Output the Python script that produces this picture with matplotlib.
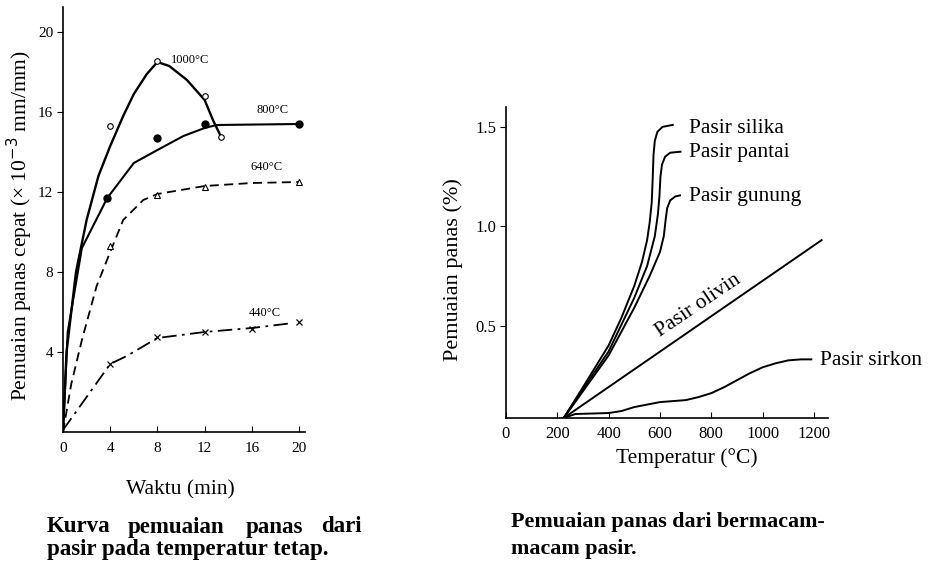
import matplotlib
matplotlib.use("Agg")
import matplotlib.pyplot as plt

plt.rcParams['font.family'] = ['Liberation Serif', 'DejaVu Serif']

# ---------------- Left chart data (Waktu vs pemuaian) ----------------
t_1000_line = [0, 0.3, 1.1, 2.0, 3.0, 4.0, 5.1, 6.0, 7.1, 8.0, 9.0, 10.5, 12.0, 12.7, 13.4]
v_1000_line = [0, 4.0, 8.0, 10.6, 12.8, 14.3, 15.8, 16.9, 17.9, 18.5, 18.3, 17.6, 16.6, 15.6, 14.75]
t_1000_pts = [4, 8, 12, 13.4]
v_1000_pts = [15.3, 18.55, 16.8, 14.75]

t_800_line = [0, 0.4, 1.6, 3.75, 6.0, 8.0, 10.2, 12.0, 13.0, 20.0]
v_800_line = [0, 5.0, 9.2, 11.7, 13.45, 14.1, 14.8, 15.2, 15.35, 15.4]
t_800_pts = [3.75, 8, 12, 20]
v_800_pts = [11.7, 14.7, 15.4, 15.4]

t_640_line = [0, 0.7, 1.6, 2.85, 4.0, 5.1, 6.8, 8.0, 12.0, 16.0, 20.0]
v_640_line = [0, 2.4, 4.6, 7.3, 9.0, 10.6, 11.6, 11.9, 12.3, 12.45, 12.5]
t_640_pts = [4, 8, 12, 20]
v_640_pts = [9.3, 11.85, 12.27, 12.5]

t_440_line = [0, 4.0, 5.4, 8.0, 12.0, 16.0, 19.5]
v_440_line = [0.1, 3.4, 3.8, 4.7, 5.0, 5.2, 5.45]
t_440_pts = [4, 8, 12, 16, 20]
v_440_pts = [3.4, 4.75, 5.0, 5.15, 5.5]

left_xticks = [0, 4, 8, 12, 16, 20]
left_yticks = [4, 8, 12, 16, 20]
left_labels = ["1000°C", "800°C", "640°C", "440°C"]

# ---------------- Right chart data (Temperatur vs pemuaian) ----------------
T_silika = [225, 300, 400, 450, 500, 530, 550, 560, 568, 572, 575, 580, 590, 610, 650]
P_silika = [0.035, 0.19, 0.40, 0.54, 0.70, 0.82, 0.93, 1.02, 1.12, 1.25, 1.36, 1.43, 1.475, 1.50, 1.51]

T_pantai = [225, 300, 400, 500, 550, 580, 592, 598, 602, 608, 620, 640, 680]
P_pantai = [0.035, 0.18, 0.37, 0.64, 0.80, 0.95, 1.06, 1.15, 1.25, 1.31, 1.35, 1.37, 1.375]

T_gunung = [225, 300, 400, 500, 560, 600, 615, 622, 628, 640, 660, 678]
P_gunung = [0.035, 0.17, 0.35, 0.59, 0.75, 0.87, 0.95, 1.03, 1.09, 1.13, 1.15, 1.155]

T_olivin = [225, 1230]
P_olivin = [0.035, 0.93]

T_sirkon = [225, 270, 400, 450, 500, 600, 700, 750, 800, 850, 900, 950, 1000, 1050, 1100, 1150, 1190]
P_sirkon = [0.035, 0.055, 0.06, 0.07, 0.09, 0.115, 0.125, 0.14, 0.16, 0.19, 0.225, 0.26, 0.29, 0.31, 0.325, 0.33, 0.33]

right_xticks = [0, 200, 400, 600, 800, 1000, 1200]
right_yticks = [0.5, 1.0, 1.5]
right_names = ["Pasir silika", "Pasir pantai", "Pasir gunung", "Pasir olivin", "Pasir sirkon"]

# ---------------- Figure ----------------
fig = plt.figure(figsize=(9.36, 5.74), dpi=100)
W, H = 936.0, 574.0

def fx(px):
    return px / W

def fy(py):
    return 1 - py / H

# Left axes
axL = fig.add_axes([fx(63), fy(432), fx(305) - fx(63), fy(7) - fy(432)])
axL.plot(t_1000_line, v_1000_line, color='black', lw=1.7, ls='-')
axL.plot(t_1000_pts, v_1000_pts, ls='none', marker='o', ms=4, mfc='white', mec='black', mew=0.8)
axL.plot(t_800_line, v_800_line, color='black', lw=1.5, ls='-')
axL.plot(t_800_pts, v_800_pts, ls='none', marker='o', ms=5, mfc='black', mec='black')
axL.plot(t_640_line, v_640_line, color='black', lw=1.3, ls=(0, (5, 3)))
axL.plot(t_640_pts, v_640_pts, ls='none', marker='^', ms=4, mfc='white', mec='black', mew=0.8)
axL.plot(t_440_line, v_440_line, color='black', lw=1.3, ls=(0, (8, 3, 1.5, 3)))
axL.plot(t_440_pts, v_440_pts, ls='none', marker='x', ms=4.5, mec='black', mew=0.9)

axL.set_xlim(0, 20.5)
axL.set_ylim(0, 21.25)
axL.set_xticks(left_xticks)
axL.set_yticks(left_yticks)
axL.spines['top'].set_visible(False)
axL.spines['right'].set_visible(False)
for s in ['left', 'bottom']:
    axL.spines[s].set_linewidth(1.2)
axL.tick_params(axis='x', direction='in', length=4, labelsize=11, pad=7)
axL.tick_params(axis='y', direction='out', length=4, labelsize=11, pad=3)

axL.text(9.1, 18.6, left_labels[0], fontsize=9, va='center', ha='left')
axL.text(16.4, 16.1, left_labels[1], fontsize=9, va='center', ha='left')
axL.text(15.85, 13.25, left_labels[2], fontsize=9, va='center', ha='left')
axL.text(15.7, 5.95, left_labels[3], fontsize=9, va='center', ha='left')

fig.text(fx(180), fy(490), "Waktu (min)", fontsize=15.5, ha='center', va='center')
fig.text(fx(20), fy(226), "Pemuaian panas cepat (× 10$^{-3}$ mm/mm)", fontsize=15.5,
         rotation=90, ha='center', va='center')

# Left caption (justified words)
cap1_words = ["Kurva", "pemuaian", "panas", "dari"]
cap1_x = [47, 128, 246, 362]
cap1_ha = ['left', 'left', 'left', 'right']
for w, xx, h in zip(cap1_words, cap1_x, cap1_ha):
    fig.text(fx(xx), fy(527), w, fontsize=16.5, fontweight='bold', ha=h, va='center')
fig.text(fx(47), fy(549), "pasir pada temperatur tetap.", fontsize=16.5, fontweight='bold',
         ha='left', va='center')

# Right axes
axR = fig.add_axes([fx(506), fy(418), fx(828) - fx(506), fy(107) - fy(418)])
for T, P in [(T_silika, P_silika), (T_pantai, P_pantai), (T_gunung, P_gunung),
             (T_olivin, P_olivin), (T_sirkon, P_sirkon)]:
    axR.plot(T, P, color='black', lw=1.4)

axR.set_xlim(0, 1255)
axR.set_ylim(0.035, 1.6)
axR.set_xticks(right_xticks)
axR.set_yticks(right_yticks)
axR.set_yticklabels(["0.5", "1.0", "1.5"])
axR.spines['top'].set_visible(False)
axR.spines['right'].set_visible(False)
for s in ['left', 'bottom']:
    axR.spines[s].set_linewidth(1.2)
axR.tick_params(axis='x', direction='in', length=4, labelsize=12, pad=6)
axR.tick_params(axis='y', direction='out', length=4, labelsize=12, pad=3)

axR.text(713, 1.49, right_names[0], fontsize=15.5, ha='left', va='center')
axR.text(713, 1.37, right_names[1], fontsize=15.5, ha='left', va='center')
axR.text(713, 1.15, right_names[2], fontsize=15.5, ha='left', va='center')
axR.text(748, 0.60, right_names[3], fontsize=15.5, ha='center', va='center', rotation=34)
axR.text(1223, 0.326, right_names[4], fontsize=15.5, ha='left', va='center', clip_on=False)

fig.text(fx(687), fy(458), "Temperatur (°C)", fontsize=15.5, ha='center', va='center')
fig.text(fx(453), fy(270), "Pemuaian panas (%)", fontsize=16, rotation=90,
         ha='center', va='center')

fig.text(fx(511), fy(522), "Pemuaian panas dari bermacam-", fontsize=15.8, fontweight='bold',
         ha='left', va='center')
fig.text(fx(511), fy(549), "macam pasir.", fontsize=15.8, fontweight='bold',
         ha='left', va='center')

fig.savefig("out.png", dpi=100)
